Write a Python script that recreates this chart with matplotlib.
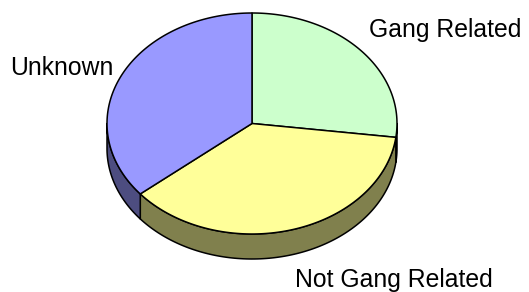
import numpy as np
import matplotlib.pyplot as plt
from matplotlib.patches import Polygon

labels = ["Gang Related", "Not Gang Related", "Unknown"]
values = [27, 37, 36]
top_colors = ["#CCFFCC", "#FFFF99", "#9999FF"]
side_colors = ["#66805C", "#80804D", "#4D4D80"]

# label anchor (center x, baseline y) in pixels
label_pos = [(445, 37), (394, 287), (62, 75)]

# pie geometry in pixels
cx, cy = 252, 123.5
rx, ry = 145, 110.5
depth = 25

W, H = 529, 292
fig = plt.figure(figsize=(W / 100, H / 100), dpi=100)
ax = fig.add_axes([0, 0, 1, 1])
ax.set_xlim(0, W)
ax.set_ylim(H, 0)
ax.axis("off")


def arc(t0, t1, dy=0.0, n=120):
    t = np.radians(np.linspace(t0, t1, n))
    return np.column_stack([cx + rx * np.cos(t), cy - ry * np.sin(t) + dy])


# slice angles, starting at 12 o'clock going clockwise
fracs = np.array(values, dtype=float) / sum(values)
ends = 90 - 360 * np.cumsum(fracs)
starts = np.concatenate([[90], ends[:-1]])

# side walls (front half only)
for s, e, col in zip(starts, ends, side_colors):
    for k in (-360, 0, 360):
        lo = max(e, -180 + k)
        hi = min(s, 0 + k)
        if hi - lo > 0.01:
            top = arc(lo, hi)
            bot = arc(hi, lo, dy=depth)
            ax.add_patch(Polygon(np.vstack([top, bot]), closed=True,
                                 facecolor=col, edgecolor="black", lw=1.1,
                                 joinstyle="round"))

# top faces
for s, e, col in zip(starts, ends, top_colors):
    pts = np.vstack([[cx, cy], arc(s, e)])
    ax.add_patch(Polygon(pts, closed=True, facecolor=col,
                         edgecolor="black", lw=1.1, joinstyle="round"))

for lab, (x, y) in zip(labels, label_pos):
    ax.text(x, y, lab, ha="center", va="baseline", fontsize=17.8,
            family=["Liberation Sans", "DejaVu Sans"], color="black")

fig.savefig("out.png", dpi=100)
